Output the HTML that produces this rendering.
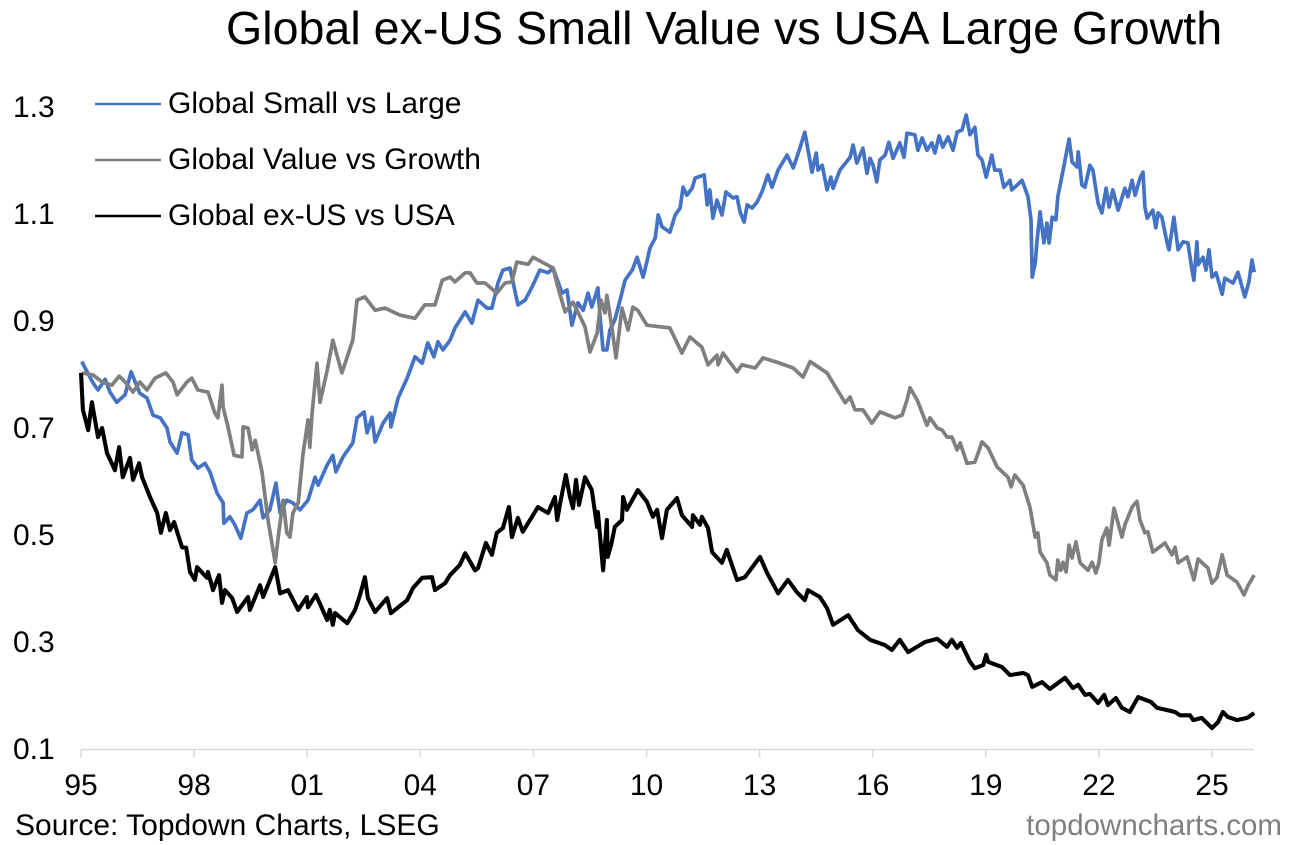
<!DOCTYPE html>
<html lang="en">
<head>
<meta charset="utf-8">
<title>Global ex-US Small Value vs USA Large Growth</title>
<style>
html,body{margin:0;padding:0;background:#fff;}
svg{display:block;font-family:"Liberation Sans",Arial,sans-serif;}
text{fill:#000;}
</style>
</head>
<body>
<svg id="chart" width="1310" height="845" viewBox="0 0 1310 845" xmlns="http://www.w3.org/2000/svg">
  <text x="226" y="44" font-size="46.6">Global ex-US Small Value vs USA Large Growth</text>
  <g id="y-axis"></g>
  <g id="x-axis"></g>
  <g id="series"></g>
  <g>
    <g>
      <line x1="95" x2="161" y1="104" y2="104" stroke="#4472c4" stroke-width="2.6"></line>
      <text x="168" y="113" font-size="30">Global Small vs Large</text>
    </g>
    <g>
      <line x1="95" x2="161" y1="160" y2="160" stroke="#7f7f7f" stroke-width="2.6"></line>
      <text x="168" y="169" font-size="30">Global Value vs Growth</text>
    </g>
    <g>
      <line x1="95" x2="161" y1="216" y2="216" stroke="#000" stroke-width="2.6"></line>
      <text x="168" y="225" font-size="30">Global ex-US vs USA</text>
    </g>
  </g>
  <text x="15" y="835" font-size="30">Source: Topdown Charts, LSEG</text>
  <text x="1282" y="835" font-size="29.5" text-anchor="end" style="fill:#7f7f7f">topdowncharts.com</text>
</svg>
<script>
// Times are years elapsed since the start of 1995.
const yTickValues = [0.1, 0.3, 0.5, 0.7, 0.9, 1.1, 1.3];
const yTickLabels = ["0.1", "0.3", "0.5", "0.7", "0.9", "1.1", "1.3"];
const xTickTimes = [0, 3, 6, 9, 12, 15, 18, 21, 24, 27, 30];
const xTickLabels = ["95", "98", "01", "04", "07", "10", "13", "16", "19", "22", "25"];

const smallTimes = [.02,.11,.32,.45,.64,.77,.95,1.17,1.33,1.56,1.75,1.91,2.10,2.28,2.36,2.55,2.68,2.84,2.94,3.10,3.29,3.42,3.61,3.77,3.79,3.95,4.08,4.24,4.40,4.56,4.75,4.83,5.01,5.17,5.28,5.46,5.62,5.81,6.02,6.21,6.29,6.53,6.68,6.76,6.95,7.21,7.32,7.51,7.59,7.72,7.80,8.01,8.20,8.22,8.41,8.65,8.86,9.05,9.20,9.36,9.47,9.60,9.79,9.92,10.19,10.37,10.53,10.77,10.90,11.06,11.19,11.38,11.59,11.78,11.96,12.17,12.39,12.52,12.76,12.89,13.02,13.18,13.32,13.45,13.55,13.71,13.77,13.85,13.95,14.03,14.16,14.30,14.43,14.62,14.75,14.91,15.02,15.09,15.23,15.31,15.41,15.62,15.76,15.89,15.97,16.07,16.21,16.29,16.53,16.61,16.68,16.76,16.87,17.00,17.11,17.29,17.40,17.48,17.59,17.67,17.80,17.93,18.06,18.22,18.33,18.49,18.73,18.89,19.07,19.20,19.39,19.50,19.55,19.66,19.79,19.89,19.95,20.13,20.40,20.48,20.58,20.74,20.85,20.93,21.01,21.11,21.19,21.33,21.43,21.54,21.72,21.83,21.91,22.12,22.20,22.31,22.44,22.57,22.65,22.76,22.86,23.00,23.13,23.24,23.37,23.48,23.58,23.71,23.79,23.90,24.01,24.16,24.24,24.38,24.48,24.64,24.69,24.83,24.96,25.12,25.20,25.23,25.31,25.36,25.44,25.54,25.62,25.68,25.76,25.86,25.91,26.05,26.21,26.29,26.42,26.45,26.55,26.63,26.76,26.84,26.98,27.08,27.19,27.27,27.37,27.51,27.69,27.77,27.88,27.96,28.09,28.17,28.22,28.28,28.43,28.51,28.57,28.67,28.81,28.86,28.99,29.10,29.23,29.36,29.47,29.52,29.60,29.63,29.76,29.84,29.92,30.00,30.11,30.27,30.34,30.56,30.69,30.87,30.98,31.06,31.12];
const smallValues = [.825,.813,.785,.772,.792,.768,.749,.763,.806,.766,.757,.725,.720,.701,.675,.654,.692,.688,.641,.626,.635,.619,.579,.561,.523,.535,.520,.495,.542,.548,.566,.533,.548,.598,.542,.566,.561,.548,.566,.609,.594,.632,.650,.619,.647,.673,.720,.731,.692,.721,.675,.710,.729,.703,.757,.794,.834,.822,.860,.834,.862,.847,.865,.888,.918,.897,.940,.925,.925,.972,.996,1.000,.931,.940,.964,.996,.991,1.000,.953,.959,.893,.935,.921,.953,.927,.963,.908,.847,.847,.884,.903,.940,.977,.996,1.020,.983,1.015,1.037,1.056,1.099,1.077,1.067,1.099,1.112,1.151,1.136,1.149,1.168,1.174,1.118,1.146,1.093,1.127,1.099,1.142,1.131,1.133,1.105,1.086,1.118,1.112,1.123,1.142,1.174,1.151,1.183,1.211,1.187,1.224,1.254,1.179,1.215,1.183,1.192,1.146,1.170,1.149,1.183,1.207,1.230,1.196,1.224,1.177,1.205,1.192,1.161,1.202,1.211,1.235,1.205,1.234,1.207,1.252,1.249,1.220,1.243,1.220,1.234,1.215,1.247,1.226,1.245,1.220,1.254,1.258,1.286,1.249,1.263,1.211,1.202,1.170,1.211,1.183,1.183,1.151,1.164,1.146,1.155,1.164,1.133,1.090,.983,1.009,1.052,1.105,1.047,1.084,1.047,1.095,1.090,1.133,1.183,1.241,1.198,1.189,1.217,1.155,1.151,1.192,1.183,1.121,1.103,1.149,1.114,1.146,1.108,1.149,1.133,1.164,1.136,1.168,1.179,1.114,1.093,1.108,1.075,1.103,1.095,1.047,1.034,1.095,1.034,1.049,1.047,.996,.977,1.049,1.006,1.020,.996,1.034,.983,.991,.951,.981,.972,.992,.946,.974,1.015,.992];

const valueTimes = [.03,.32,.56,.82,1.01,1.17,1.38,1.56,1.75,1.96,2.25,2.44,2.55,2.81,2.94,3.10,3.37,3.55,3.63,3.74,3.77,3.90,4.06,4.27,4.30,4.43,4.54,4.62,4.80,4.96,5.15,5.23,5.36,5.46,5.54,5.62,5.76,5.89,6.02,6.07,6.13,6.26,6.34,6.53,6.68,6.92,7.21,7.32,7.53,7.80,8.06,8.46,8.86,9.12,9.39,9.58,9.79,9.92,10.19,10.32,10.50,10.72,11.03,11.25,11.43,11.56,11.86,11.99,12.36,12.52,12.65,12.84,13.05,13.18,13.37,13.50,13.69,13.79,13.90,13.95,14.08,14.19,14.35,14.51,14.64,14.77,15.01,15.36,15.62,15.94,16.15,16.47,16.63,16.87,16.90,17.03,17.40,17.53,17.88,18.09,18.54,18.89,19.15,19.34,19.79,19.95,20.27,20.40,20.53,20.74,20.98,21.19,21.59,21.78,21.91,21.99,22.18,22.44,22.52,22.71,22.84,22.97,23.10,23.24,23.32,23.50,23.71,23.90,24.06,24.30,24.59,24.67,24.77,24.99,25.17,25.31,25.38,25.44,25.62,25.70,25.86,25.91,25.99,26.05,26.13,26.21,26.29,26.39,26.50,26.71,26.82,26.92,27.00,27.08,27.21,27.27,27.40,27.61,27.69,27.88,28.01,28.09,28.22,28.30,28.43,28.75,28.94,29.02,29.10,29.34,29.52,29.63,29.89,30.00,30.13,30.27,30.40,30.66,30.85,30.96,31.12];
const valueValues = [.804,.800,.787,.781,.798,.787,.768,.787,.772,.794,.804,.787,.763,.787,.794,.772,.768,.729,.720,.781,.740,.703,.650,.647,.703,.701,.660,.678,.619,.529,.449,.497,.566,.505,.497,.542,.561,.654,.716,.665,.729,.822,.749,.809,.865,.804,.865,.940,.946,.921,.925,.912,.906,.931,.931,.977,.983,.974,.991,.991,.972,.972,.953,.972,.974,1.011,1.007,1.020,1.006,1.000,.964,.918,.936,.918,.890,.843,.878,.940,.916,.949,.890,.832,.925,.884,.927,.921,.893,.890,.888,.841,.871,.852,.819,.837,.819,.841,.806,.819,.813,.832,.822,.813,.796,.825,.804,.785,.748,.759,.735,.735,.710,.731,.720,.725,.753,.776,.753,.706,.720,.701,.697,.684,.684,.660,.673,.635,.637,.675,.664,.628,.609,.591,.613,.594,.553,.497,.505,.469,.449,.426,.417,.454,.435,.450,.432,.482,.458,.488,.449,.435,.450,.430,.449,.492,.514,.482,.551,.497,.520,.553,.564,.529,.505,.507,.469,.486,.464,.478,.449,.460,.417,.456,.439,.411,.421,.464,.426,.413,.389,.407,.426];

const exUsTimes = [0,.05,.19,.29,.45,.56,.69,.90,1.01,1.11,1.30,1.38,1.54,1.62,1.83,2.02,2.12,2.25,2.36,2.47,2.68,2.79,2.89,3.02,3.08,3.34,3.37,3.50,3.66,3.74,3.82,4.01,4.14,4.43,4.48,4.75,4.83,5.15,5.28,5.49,5.76,5.99,6.02,6.23,6.53,6.60,6.68,6.74,7.06,7.27,7.40,7.53,7.61,7.80,8.12,8.22,8.65,8.81,9.05,9.31,9.39,9.66,9.79,10.05,10.19,10.45,10.53,10.74,10.90,11.03,11.19,11.35,11.43,11.59,11.72,12.12,12.39,12.57,12.63,12.71,12.86,12.97,13.05,13.13,13.21,13.37,13.55,13.69,13.71,13.85,13.95,13.97,14.06,14.16,14.35,14.38,14.48,14.77,15.01,15.17,15.28,15.41,15.54,15.81,15.94,16.21,16.23,16.42,16.47,16.63,16.74,17.00,17.13,17.40,17.61,18.01,18.20,18.49,18.75,18.99,19.20,19.28,19.60,19.79,19.95,20.35,20.61,20.93,21.33,21.51,21.72,21.94,22.39,22.71,22.97,23.10,23.24,23.34,23.58,23.71,23.93,24.01,24.06,24.43,24.64,24.99,25.12,25.23,25.49,25.70,26.10,26.31,26.45,26.63,26.76,26.98,27.14,27.24,27.45,27.61,27.82,28.04,28.38,28.54,29.02,29.15,29.42,29.50,29.73,30.00,30.16,30.29,30.42,30.66,30.93,31.12];
const exUsValues = [.804,.735,.697,.749,.684,.701,.654,.622,.665,.609,.645,.604,.635,.609,.572,.542,.505,.542,.510,.525,.478,.477,.432,.417,.441,.421,.432,.398,.426,.374,.398,.383,.357,.385,.361,.407,.385,.441,.392,.398,.361,.385,.366,.389,.342,.361,.333,.355,.336,.361,.389,.422,.383,.357,.383,.355,.379,.402,.421,.422,.398,.411,.426,.445,.467,.435,.439,.486,.464,.505,.514,.553,.497,.533,.507,.553,.542,.572,.529,.561,.613,.572,.551,.604,.557,.609,.585,.516,.544,.435,.529,.460,.482,.516,.529,.572,.548,.585,.563,.535,.548,.495,.548,.570,.538,.516,.538,.520,.535,.514,.469,.449,.473,.417,.422,.460,.430,.392,.417,.394,.379,.398,.385,.364,.333,.351,.323,.305,.295,.286,.305,.282,.301,.307,.292,.305,.290,.299,.264,.252,.258,.277,.264,.254,.239,.243,.239,.217,.226,.213,.234,.215,.221,.202,.204,.187,.202,.183,.196,.178,.170,.198,.189,.178,.170,.164,.164,.155,.159,.140,.151,.170,.161,.155,.159,.168];

const xOrigin = 81, pxPerYear = 37.7;
const yBase = 749.5, pxPerUnit = 535;
function xScale(t) { return xOrigin + t * pxPerYear; }
function yScale(v) { return yBase - (v - 0.1) * pxPerUnit; }

const SVGNS = "http://www.w3.org/2000/svg";
const yAxis = document.getElementById("y-axis");
const xAxis = document.getElementById("x-axis");
const seriesGroup = document.getElementById("series");

yTickValues.forEach(function (v, i) {
  const t = document.createElementNS(SVGNS, "text");
  
  
  t.setAttribute("x", 13);
  t.setAttribute("y", yScale(v) + 9.5);
  t.setAttribute("font-size", 30);
  t.textContent = yTickLabels[i];
  yAxis.appendChild(t);
});

const axisLine = document.createElementNS(SVGNS, "line");


axisLine.setAttribute("x1", xScale(0));
axisLine.setAttribute("x2", xScale(31.12));
axisLine.setAttribute("y1", yBase);
axisLine.setAttribute("y2", yBase);
axisLine.setAttribute("stroke", "#d9d9d9");
axisLine.setAttribute("stroke-width", 1.5);
xAxis.appendChild(axisLine);

xTickTimes.forEach(function (t, i) {
  const tick = document.createElementNS(SVGNS, "line");
  
  
  tick.setAttribute("x1", xScale(t));
  tick.setAttribute("x2", xScale(t));
  tick.setAttribute("y1", yBase);
  tick.setAttribute("y2", yBase + 8);
  tick.setAttribute("stroke", "#d9d9d9");
  tick.setAttribute("stroke-width", 1.5);
  xAxis.appendChild(tick);
  const label = document.createElementNS(SVGNS, "text");
  
  
  label.setAttribute("x", xScale(t));
  label.setAttribute("y", 795);
  label.setAttribute("font-size", 30);
  label.setAttribute("text-anchor", "middle");
  label.textContent = xTickLabels[i];
  xAxis.appendChild(label);
});

function linePath(times, values) {
  return times.map(function (t, i) {
    return (i ? "L" : "M") + xScale(t).toFixed(1) + " " + yScale(values[i]).toFixed(1);
  }).join("");
}

const smallLine = document.createElementNS(SVGNS, "path");


smallLine.setAttribute("d", linePath(smallTimes, smallValues));
smallLine.setAttribute("fill", "none");
smallLine.setAttribute("stroke", "#4472c4");
smallLine.setAttribute("stroke-width", 3.7);
smallLine.setAttribute("stroke-linejoin", "round");
seriesGroup.appendChild(smallLine);

const valueLine = document.createElementNS(SVGNS, "path");


valueLine.setAttribute("d", linePath(valueTimes, valueValues));
valueLine.setAttribute("fill", "none");
valueLine.setAttribute("stroke", "#7f7f7f");
valueLine.setAttribute("stroke-width", 3.7);
valueLine.setAttribute("stroke-linejoin", "round");
seriesGroup.appendChild(valueLine);

const exUsLine = document.createElementNS(SVGNS, "path");


exUsLine.setAttribute("d", linePath(exUsTimes, exUsValues));
exUsLine.setAttribute("fill", "none");
exUsLine.setAttribute("stroke", "#000");
exUsLine.setAttribute("stroke-width", 4.1);
exUsLine.setAttribute("stroke-linejoin", "round");
seriesGroup.appendChild(exUsLine);
</script>
</body>
</html>
